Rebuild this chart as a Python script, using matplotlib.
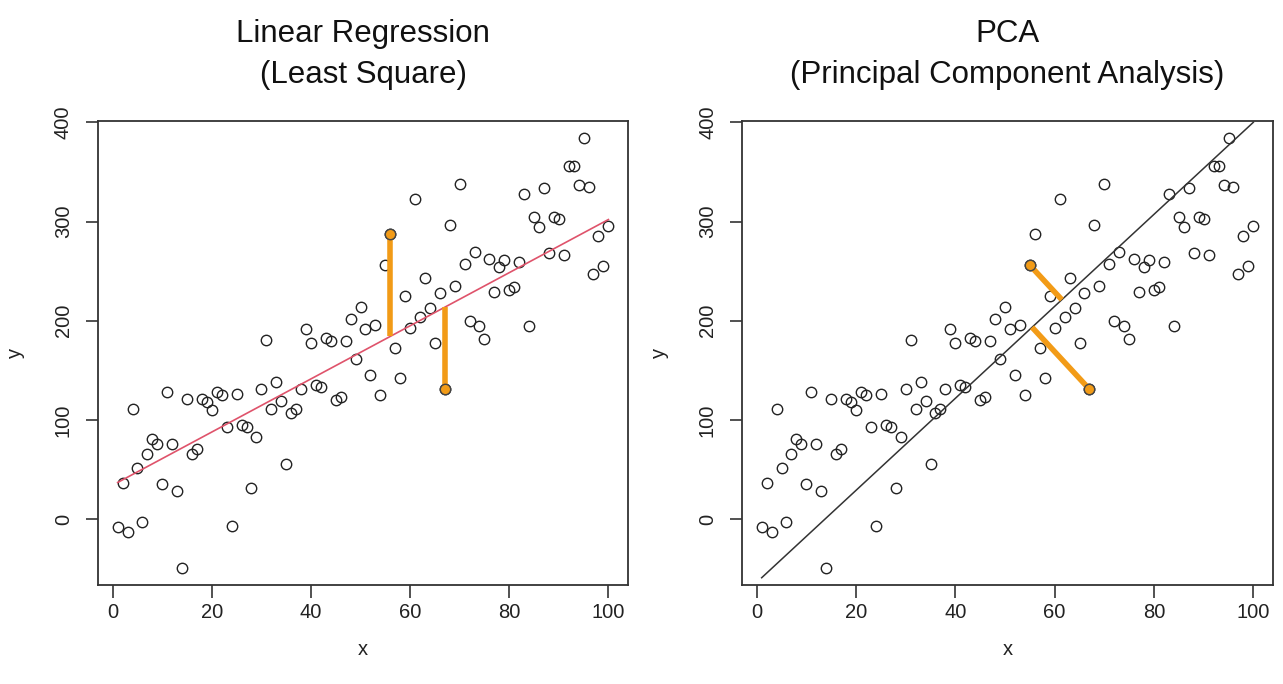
import matplotlib
matplotlib.use("Agg")
import matplotlib.pyplot as plt
import numpy as np

plt.rcParams["font.family"] = ["Liberation Sans", "DejaVu Sans"]

# values
x_vals = list(range(1, 101))
y_vals = [
    -8, 36, -13, 111, 52, -3, 66, 81, 76, 35,
    128, 76, 28, -49, 121, 66, 71, 121, 118, 110,
    128, 125, 93, -7, 126, 95, 93, 31, 83, 131,
    181, 111, 138, 119, 56, 107, 111, 131, 192, 178,
    135, 133, 183, 180, 120, 123, 180, 202, 161, 214,
    192, 145, 196, 125, 256, 287, 173, 142, 225, 193,
    323, 204, 243, 213, 178, 228, 131, 297, 235, 338,
    257, 200, 269, 195, 182, 262, 229, 254, 261, 231,
    234, 259, 328, 195, 305, 294, 334, 268, 305, 303,
    266, 356, 356, 337, 384, 335, 247, 285, 255, 296,
]
ls_highlight = [56, 67]
pca_highlight = [55, 67]
ls_line_x = [1, 100]
ls_line_y = [37, 302]
pca_line_x = [1, 100]
pca_line_y = [-59, 400]

titles = ["Linear Regression\n(Least Square)", "PCA\n(Principal Component Analysis)"]
x_ticks = [0, 20, 40, 60, 80, 100]
y_ticks = [0, 100, 200, 300, 400]

ORANGE = "#F29B17"
RED = "#DF536B"
INK = "#222222"

x = np.array(x_vals, dtype=float)
y = np.array(y_vals, dtype=float)


def r_limits(v):
    span = v.max() - v.min()
    return v.min() - 0.04 * span, v.max() + 0.04 * span


def style_axes(ax, title):
    ax.set_xlim(*r_limits(x))
    ax.set_ylim(*r_limits(y))
    ax.set_xticks(x_ticks)
    ax.set_yticks(y_ticks)
    for s in ax.spines.values():
        s.set_color("#333333")
        s.set_linewidth(1.3)
    ax.tick_params(direction="out", length=9, width=1.2, colors="#333333",
                   labelcolor="#222222", labelsize=14.5)
    ax.tick_params(axis="x", pad=4)
    ax.tick_params(axis="y", pad=9)
    for t in ax.get_yticklabels():
        t.set_rotation(90)
        t.set_verticalalignment("center")
    ax.set_xlabel("x", fontsize=14.5, labelpad=13, color=INK)
    ax.set_ylabel("y", fontsize=14.5, labelpad=21, color=INK)
    ax.set_title(title, fontsize=22.5, linespacing=1.5, pad=27, color="#111111")


def scatter(ax):
    ax.plot(x, y, "o", mfc="none", mec=INK, ms=7.5, mew=1.0, zorder=3)


def highlight(ax, xv):
    i = x_vals.index(xv)
    ax.plot(x[i], y[i], "o", mfc=ORANGE, mec="#444444", ms=7.5, mew=1.0, zorder=6)


def value_on(lx, ly, xv):
    return np.interp(xv, lx, ly)


def foot_on_line(ax, px, py, lx, ly):
    # perpendicular foot measured on screen, as in the picture
    tr = ax.transData
    a, b = tr.transform([(lx[0], ly[0]), (lx[1], ly[1])])
    p = tr.transform((px, py))
    d = (b - a) / np.hypot(*(b - a))
    f = a + np.dot(p - a, d) * d
    return tr.inverted().transform(f)


fig = plt.figure(figsize=(12.83, 6.84), dpi=100)
ax1 = fig.add_axes([98 / 1283, 1 - 585 / 684, 530 / 1283, 464 / 684])
ax2 = fig.add_axes([742 / 1283, 1 - 585 / 684, 531 / 1283, 464 / 684])

# left: least squares with vertical residuals
style_axes(ax1, titles[0])
scatter(ax1)
ax1.plot(ls_line_x, ls_line_y, color=RED, lw=1.2, zorder=4)
for xv in ls_highlight:
    i = x_vals.index(xv)
    ax1.plot([x[i], x[i]], [y[i], value_on(ls_line_x, ls_line_y, x[i])],
             color=ORANGE, lw=4, solid_capstyle="butt", zorder=5)
    highlight(ax1, xv)

# right: principal axis with orthogonal residuals
style_axes(ax2, titles[1])
scatter(ax2)
ax2.plot(pca_line_x, pca_line_y, color="#333333", lw=1.1, zorder=4)
for xv in pca_highlight:
    i = x_vals.index(xv)
    fx, fy = foot_on_line(ax2, x[i], y[i], pca_line_x, pca_line_y)
    ax2.plot([x[i], fx], [y[i], fy], color=ORANGE, lw=4,
             solid_capstyle="butt", zorder=5)
    highlight(ax2, xv)

fig.savefig("out.png", dpi=100)
